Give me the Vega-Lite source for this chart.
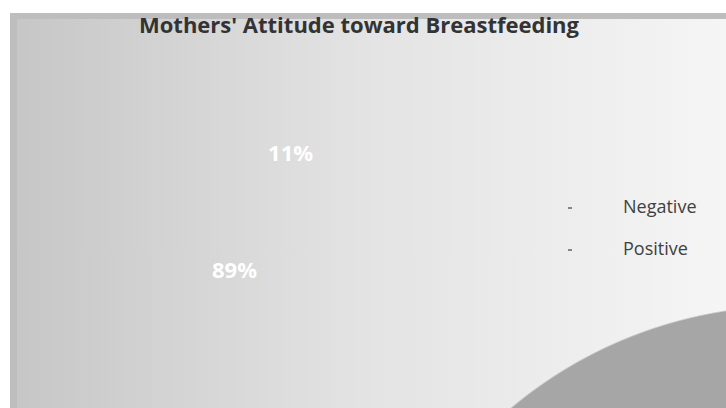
{
  "$schema": "https://vega.github.io/schema/vega-lite/v6.json",
  "width": 726,
  "height": 408,
  "autosize": {"type": "fit", "contains": "padding"},
  "padding": {"left": 10, "top": 13, "right": 0, "bottom": 0},
  "background": "#ffffff",
  "data": {
    "values": [
      {"attitude": "Negative", "share": 0.11},
      {"attitude": "Positive", "share": 0.89}
    ]
  },
  "layer": [
    {
      "data": {"values": [{}]},
      "mark": {
        "type": "rect",
        "color": {
          "gradient": "linear", "x1": 0, "y1": 0, "x2": 1, "y2": 0,
          "stops": [
            {"offset": 0, "color": "#c6c6c6"},
            {"offset": 0.49, "color": "#e3e3e3"},
            {"offset": 1, "color": "#f5f5f5"}
          ]
        }
      },
      "encoding": {}
    },
    {
      "data": {"values": [{}]},
      "mark": {
        "type": "rect",
        "color": {
          "gradient": "linear", "x1": 0, "y1": 0, "x2": 0, "y2": 1,
          "stops": [
            {"offset": 0, "color": "#bdbdbd"},
            {"offset": 0.015, "color": "#bdbdbd"},
            {"offset": 0.016, "color": "rgba(189,189,189,0)"},
            {"offset": 1, "color": "rgba(189,189,189,0)"}
          ]
        }
      },
      "encoding": {}
    },
    {
      "data": {"values": [{}]},
      "mark": {
        "type": "rect",
        "color": {
          "gradient": "linear", "x1": 0, "y1": 0, "x2": 1, "y2": 0,
          "stops": [
            {"offset": 0, "color": "#bebebe"},
            {"offset": 0.0095, "color": "#bebebe"},
            {"offset": 0.0105, "color": "rgba(190,190,190,0)"},
            {"offset": 1, "color": "rgba(190,190,190,0)"}
          ]
        }
      },
      "encoding": {}
    },
    {
      "data": {"values": [{}]},
      "mark": {
        "type": "rect",
        "color": {
          "gradient": "radial",
          "x1": 1.092, "y1": 1.2437, "r1": 0,
          "x2": 1.092, "y2": 1.2437, "r2": 0.6117,
          "stops": [
            {"offset": 0, "color": "#a6a6a6"},
            {"offset": 0.996, "color": "#a6a6a6"},
            {"offset": 1, "color": "rgba(166,166,166,0)"}
          ]
        }
      },
      "encoding": {}
    },
    {
      "data": {"values": [{}]},
      "mark": {
        "type": "text",
        "text": "Mothers' Attitude toward Breastfeeding",
        "x": {"expr": "width*0.4874"},
        "y": 20,
        "font": "Open Sans",
        "fontSize": 22,
        "fontWeight": "bold",
        "color": "#333333",
        "align": "center",
        "baseline": "alphabetic"
      },
      "encoding": {}
    },
    {
      "mark": {
        "type": "arc",
        "opacity": 0,
        "x": {"expr": "width*0.3527"},
        "y": {"expr": "height*0.505"},
        "outerRadius": 130
      },
      "encoding": {
        "theta": {"field": "share", "type": "quantitative", "stack": true, "scale": {"range": [0.1, 6.3832]}},
        "color": {
          "field": "attitude",
          "type": "nominal",
          "scale": {"range": ["#404040", "#404040"]},
          "legend": {
            "orient": "none",
            "legendX": 551,
            "legendY": 186,
            "title": null,
            "labelFont": "Open Sans",
            "labelFontSize": 18,
            "labelColor": "#404040",
            "symbolType": "M-1,0H1",
            "symbolSize": 16,
            "symbolStrokeWidth": 1.2,
            "rowPadding": 24,
            "labelOffset": 44,
            "encode": {
              "symbols": {
                "update": {
                  "fill": {"value": "transparent"},
                  "stroke": {"value": "#404040"},
                  "strokeWidth": {"value": 1.2},
                  "opacity": {"value": 1}
                }
              }
            }
          }
        }
      }
    },
    {
      "mark": {
        "type": "text",
        "x": {"expr": "width*0.3527"},
        "y": {"expr": "height*0.505"},
        "radius": 65,
        "font": "Open Sans",
        "fontSize": 22,
        "fontWeight": "bold",
        "color": "#ffffff",
        "align": "center",
        "baseline": "middle"
      },
      "encoding": {
        "theta": {"field": "share", "type": "quantitative", "stack": true},
        "text": {"field": "share", "type": "quantitative", "format": ".0%"}
      }
    }
  ],
  "config": {
    "view": {"stroke": null}
  }
}
